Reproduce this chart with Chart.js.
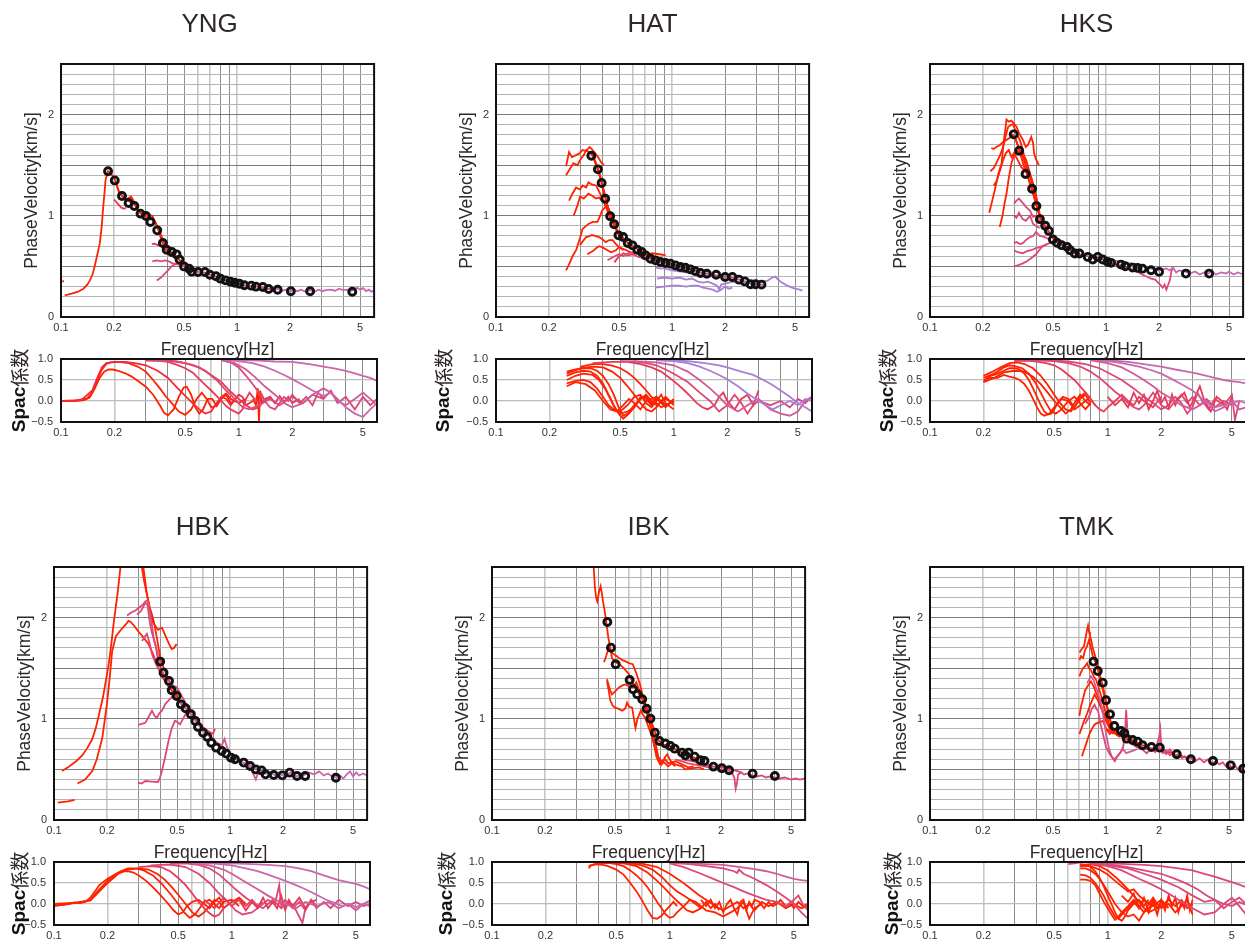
<!DOCTYPE html>
<html><head><meta charset="utf-8">
<script src="https://cdn.jsdelivr.net/npm/chart.js@4"></script>
<style>
html,body{margin:0;padding:0;background:#fff;width:1245px;height:943px;overflow:hidden;position:relative}
canvas{position:absolute}
</style></head><body>
<script>
// ---------- tick values / labels ----------
const FREQ_TICKS = [0.1,0.2,0.3,0.4,0.5,0.6,0.7,0.8,0.9,1,2,3,4,5];
const FREQ_LABELS = [0.1,0.2,0.5,1,2,5];
const VEL_TICKS = [0,0.1,0.2,0.3,0.4,0.5,0.6,0.7,0.8,0.9,1,1.1,1.2,1.3,1.4,1.5,1.6,1.7,1.8,1.9,2,2.1,2.2,2.3,2.4,2.5];
const VEL_LABELS = [0,1,2];
const SPAC_TICKS = [-0.5,0,0.5,1];
const SPAC_LABELS = ['\u22120.5','0.0','0.5','1.0'];
const TITLES = ['YNG','HAT','HKS','HBK','IBK','TMK'];

// ---------- YNG ----------
const YNG_DOTS = [[0.185,1.44],[0.202,1.35],[0.222,1.196],[0.242,1.126],[0.261,1.097],[0.283,1.021],[0.304,0.998],[0.322,0.939],[0.352,0.856],[0.379,0.731],[0.398,0.665],[0.426,0.642],[0.453,0.619],[0.471,0.567],[0.50,0.50],[0.534,0.478],[0.553,0.448],[0.60,0.445],[0.657,0.445],[0.701,0.418],[0.759,0.402],[0.805,0.379],[0.859,0.362],[0.917,0.349],[0.97,0.339],[1.03,0.329],[1.10,0.313],[1.205,0.31],[1.28,0.30],[1.40,0.296],[1.51,0.277],[1.70,0.27],[2.02,0.254],[2.60,0.254],[4.51,0.25]];
const YNG_V_STUB = [[0.1,0.35],[0.104,0.355]];
const YNG_V_RED = [[0.105,0.214],[0.115,0.23],[0.125,0.25],[0.134,0.28],[0.141,0.32],[0.146,0.362],[0.151,0.42],[0.155,0.494],[0.160,0.60],[0.166,0.725],[0.170,0.88],[0.173,1.054],[0.176,1.2],[0.179,1.35],[0.183,1.42],[0.185,1.44],[0.19,1.43],[0.202,1.36],[0.212,1.25],[0.222,1.20],[0.235,1.16],[0.25,1.19],[0.262,1.13],[0.275,1.05],[0.29,1.02],[0.31,1.01],[0.33,1.00],[0.345,0.93],[0.36,0.84],[0.375,0.74],[0.39,0.69],[0.42,0.64],[0.45,0.60],[0.48,0.55],[0.52,0.50]];
const YNG_V_RED2 = [[0.205,1.33],[0.215,1.22],[0.23,1.17],[0.245,1.14],[0.26,1.12],[0.275,1.04],[0.295,1.0],[0.32,0.98],[0.34,0.95],[0.36,0.86],[0.38,0.76],[0.40,0.68]];
const YNG_V_C1 = [[0.20,1.16],[0.21,1.12],[0.22,1.08],[0.228,1.07],[0.234,1.08]];
const YNG_V_C2 = [[0.328,0.72],[0.34,0.725],[0.355,0.71],[0.37,0.70],[0.39,0.665],[0.41,0.64],[0.43,0.62],[0.46,0.58],[0.50,0.52],[0.55,0.48],[0.60,0.45]];
const YNG_V_C3 = [[0.33,0.55],[0.35,0.56],[0.37,0.55],[0.39,0.56],[0.41,0.55],[0.43,0.53],[0.46,0.52],[0.50,0.50]];
const YNG_V_C4 = [[0.35,0.36],[0.37,0.39],[0.39,0.43],[0.41,0.47],[0.43,0.51],[0.46,0.53]];
const YNG_V_PINK = [[0.50,0.50],[0.55,0.46],[0.60,0.445],[0.65,0.44],[0.70,0.42],[0.76,0.40],[0.82,0.375],[0.88,0.36],[0.95,0.345],[1.0,0.335],[1.1,0.315],[1.2,0.305],[1.3,0.30],[1.4,0.29],[1.5,0.28],[1.6,0.275]];
const YNG_V_MAG = [[1.3,0.28],[1.38,0.29],[1.45,0.27],[1.55,0.285],[1.62,0.27],[1.7,0.28],[1.8,0.26],[1.9,0.27],[2.0,0.25],[2.1,0.27],[2.2,0.255],[2.3,0.27],[2.45,0.25],[2.6,0.265],[2.75,0.25],[2.9,0.27],[3.05,0.255],[3.2,0.265],[3.4,0.27],[3.6,0.26],[3.8,0.28],[4.0,0.265],[4.2,0.27],[4.4,0.255],[4.6,0.27],[4.8,0.29],[5.0,0.27],[5.2,0.285],[5.4,0.255],[5.6,0.27],[5.8,0.25],[6.0,0.26]];
const YNG_S_R1 = [[0.1,0.0],[0.12,0.0],[0.135,0.02],[0.145,0.08],[0.155,0.3],[0.165,0.55],[0.175,0.7],[0.185,0.75],[0.195,0.75],[0.21,0.72],[0.23,0.66],[0.25,0.58],[0.27,0.48],[0.3,0.34],[0.33,0.15],[0.36,-0.1],[0.38,-0.28],[0.40,-0.34],[0.43,-0.2],[0.46,0.1],[0.49,0.32],[0.51,0.34],[0.54,0.15],[0.57,-0.15],[0.6,-0.3],[0.63,-0.2],[0.67,0.05],[0.71,0.05],[0.75,-0.12],[0.8,0.05],[0.85,0.15],[0.9,-0.05],[0.95,0.0]];
const YNG_S_R2 = [[0.1,0.0],[0.12,0.01],[0.14,0.06],[0.15,0.2],[0.16,0.5],[0.17,0.75],[0.18,0.88],[0.19,0.92],[0.21,0.93],[0.24,0.9],[0.27,0.82],[0.3,0.7],[0.33,0.5],[0.36,0.3],[0.39,0.1],[0.42,-0.05],[0.46,-0.25],[0.5,-0.33],[0.54,-0.2],[0.58,0.05],[0.62,0.2],[0.66,0.05],[0.7,-0.15],[0.75,-0.12],[0.8,0.1],[0.85,0.18],[0.9,0.05],[1.0,-0.05],[1.1,0.05]];
const YNG_S_R3 = [[0.1,0.0],[0.13,0.02],[0.15,0.25],[0.16,0.55],[0.17,0.8],[0.18,0.9],[0.2,0.93],[0.23,0.93],[0.26,0.9],[0.3,0.85],[0.35,0.72],[0.4,0.55],[0.45,0.32],[0.5,0.12],[0.55,-0.05],[0.6,-0.2],[0.65,-0.3],[0.7,-0.25],[0.75,-0.05],[0.8,0.1],[0.85,0.05],[0.9,-0.1],[1.0,0.15],[1.05,0.1],[1.1,-0.1],[1.2,0.0]];
const YNG_S_SPIKE = [[1.2,0.05],[1.25,-0.1],[1.28,0.3],[1.3,-0.5],[1.32,0.25],[1.35,-0.05],[1.4,0.0]];
const YNG_S_C1 = [[0.3,0.97],[0.35,0.96],[0.4,0.93],[0.45,0.86],[0.5,0.78],[0.55,0.68],[0.6,0.52],[0.65,0.38],[0.7,0.25],[0.75,0.12],[0.8,0.0],[0.85,-0.12],[0.9,-0.2],[1.0,-0.3],[1.05,-0.2],[1.1,0.05],[1.15,0.2],[1.2,0.1],[1.3,-0.05],[1.35,0.15],[1.4,0.0],[1.5,0.1],[1.6,-0.05]];
const YNG_S_C2 = [[0.3,0.98],[0.4,0.97],[0.5,0.9],[0.6,0.8],[0.7,0.62],[0.8,0.45],[0.9,0.22],[1.0,0.05],[1.1,-0.1],[1.2,-0.2],[1.3,-0.15],[1.4,0.05],[1.5,0.1],[1.6,-0.05],[1.7,0.12],[1.8,-0.02],[1.9,0.1],[2.0,-0.05],[2.2,0.05]];
const YNG_S_C3 = [[0.3,0.97],[0.45,0.94],[0.55,0.86],[0.65,0.72],[0.75,0.5],[0.85,0.25],[0.95,0.05],[1.05,-0.15],[1.15,-0.2],[1.3,-0.1],[1.5,0.05],[1.7,-0.1],[2.0,0.1],[2.3,-0.05],[2.6,0.15],[3.0,0.05]];
const YNG_S_P1 = [[0.8,0.99],[1.0,0.98],[1.3,0.96],[1.6,0.94],[2.0,0.93],[2.5,0.88],[3.0,0.82],[3.5,0.77],[4.0,0.72],[4.5,0.66],[5.0,0.6],[5.5,0.55],[6.0,0.48]];
const YNG_S_P2 = [[0.8,0.98],[1.0,0.95],[1.2,0.9],[1.4,0.82],[1.6,0.72],[1.8,0.62],[2.0,0.52],[2.3,0.38],[2.6,0.25],[3.0,0.12],[3.3,0.2],[3.6,0.05],[4.0,-0.15],[4.5,-0.3],[5.0,-0.38],[5.5,-0.2],[6.0,-0.05]];
const YNG_S_P3 = [[0.8,0.97],[0.95,0.9],[1.1,0.75],[1.25,0.55],[1.4,0.35],[1.6,0.15],[1.8,-0.05],[2.0,-0.15],[2.3,-0.05],[2.6,0.15],[3.0,0.3],[3.3,0.2],[3.6,0.0],[4.0,-0.1],[4.5,0.05],[5.0,0.2],[5.5,0.05],[6.0,-0.1]];
const YNG_S_P4 = [[0.8,0.98],[0.9,0.92],[1.0,0.8],[1.1,0.6],[1.2,0.4],[1.3,0.2],[1.4,0.0],[1.5,-0.15],[1.6,-0.2],[1.7,-0.05],[1.8,0.1],[1.9,0.0],[2.0,0.15],[2.2,-0.05],[2.4,0.1],[2.6,-0.1],[2.8,0.2],[3.0,0.05],[3.3,0.25],[3.6,-0.05],[4.0,0.1],[4.5,-0.2],[5.0,0.1],[5.5,-0.1],[6.0,0.05]];

// ---------- HAT ----------
const HAT_DOTS = [[0.348,1.594],[0.379,1.459],[0.398,1.324],[0.417,1.169],[0.445,0.995],[0.469,0.916],[0.496,0.807],[0.527,0.79],[0.56,0.731],[0.595,0.708],[0.635,0.665],[0.672,0.642],[0.707,0.609],[0.755,0.576],[0.805,0.56],[0.859,0.543],[0.917,0.534],[0.979,0.527],[1.045,0.51],[1.114,0.494],[1.19,0.487],[1.27,0.471],[1.35,0.455],[1.45,0.435],[1.575,0.428],[1.78,0.418],[2.0,0.395],[2.2,0.395],[2.4,0.369],[2.59,0.352],[2.79,0.323],[2.98,0.323],[3.22,0.32]];
const HAT_V_R1 = [[0.25,1.49],[0.26,1.63],[0.27,1.58],[0.285,1.6],[0.3,1.62],[0.31,1.65],[0.325,1.64],[0.34,1.68],[0.35,1.66],[0.365,1.62],[0.38,1.58],[0.395,1.53],[0.41,1.50]];
const HAT_V_R2 = [[0.25,1.40],[0.262,1.46],[0.275,1.52],[0.29,1.5],[0.30,1.55],[0.315,1.6],[0.325,1.65],[0.34,1.62],[0.35,1.61],[0.37,1.5],[0.39,1.38],[0.41,1.22],[0.43,1.1],[0.45,0.98],[0.47,0.9],[0.5,0.8],[0.53,0.77]];
const HAT_V_R3 = [[0.26,1.15],[0.272,1.22],[0.285,1.28],[0.30,1.26],[0.31,1.30],[0.325,1.28],[0.335,1.33],[0.35,1.31],[0.37,1.30],[0.385,1.24],[0.40,1.18],[0.42,1.09],[0.44,1.0],[0.46,0.93]];
const HAT_V_R4 = [[0.276,1.0],[0.29,1.1],[0.30,1.19],[0.315,1.17],[0.335,1.22],[0.35,1.2],[0.37,1.17],[0.385,1.18],[0.40,1.15],[0.42,1.14],[0.44,1.05],[0.46,0.95]];
const HAT_V_R5 = [[0.25,0.46],[0.26,0.52],[0.272,0.6],[0.285,0.66],[0.30,0.78],[0.31,0.87],[0.325,0.9],[0.335,0.92],[0.355,0.94],[0.377,0.94],[0.39,1.0],[0.40,1.05],[0.42,1.09],[0.44,1.05],[0.46,0.98],[0.48,0.9]];
const HAT_V_R6 = [[0.30,0.71],[0.315,0.76],[0.325,0.79],[0.34,0.8],[0.35,0.81],[0.37,0.8],[0.385,0.79],[0.40,0.77],[0.42,0.74],[0.44,0.76],[0.46,0.76],[0.48,0.72],[0.50,0.69],[0.53,0.66]];
const HAT_V_R7 = [[0.33,0.62],[0.345,0.64],[0.36,0.66],[0.37,0.68],[0.385,0.70],[0.40,0.69],[0.42,0.67],[0.45,0.64],[0.48,0.66],[0.50,0.69],[0.55,0.66],[0.60,0.63],[0.65,0.64],[0.70,0.61],[0.77,0.63],[0.85,0.62],[0.92,0.61]];
const HAT_V_RMAIN = [[0.35,1.62],[0.37,1.52],[0.39,1.40],[0.41,1.25],[0.43,1.1],[0.45,1.0],[0.47,0.92],[0.50,0.82],[0.53,0.78],[0.56,0.73],[0.60,0.70],[0.65,0.66],[0.70,0.62],[0.75,0.59],[0.80,0.57],[0.9,0.55],[1.0,0.53]];
const HAT_V_C1 = [[0.43,0.56],[0.46,0.59],[0.5,0.62],[0.53,0.6],[0.56,0.63],[0.6,0.64],[0.65,0.62],[0.7,0.6],[0.75,0.58],[0.8,0.56],[0.9,0.55],[1.0,0.52],[1.1,0.51],[1.2,0.49],[1.3,0.47],[1.4,0.45],[1.5,0.43],[1.6,0.43],[1.8,0.41],[2.0,0.40],[2.2,0.39],[2.4,0.37],[2.6,0.35],[2.8,0.33],[3.0,0.32],[3.3,0.32]];
const HAT_V_C2 = [[0.47,0.54],[0.5,0.6],[0.53,0.63],[0.56,0.61],[0.6,0.62],[0.63,0.6],[0.66,0.59],[0.7,0.57]];
const HAT_V_PU1 = [[0.8,0.49],[0.85,0.48],[0.9,0.48],[0.95,0.47],[1.0,0.46],[1.1,0.45],[1.2,0.44],[1.3,0.43],[1.4,0.42],[1.5,0.42],[1.7,0.40],[1.9,0.39],[2.0,0.38]];
const HAT_V_PU2 = [[0.82,0.38],[0.9,0.39],[1.0,0.38],[1.1,0.39],[1.2,0.37],[1.3,0.38],[1.4,0.35],[1.5,0.34],[1.6,0.35],[1.7,0.33],[1.8,0.31],[1.85,0.27],[1.9,0.32],[2.0,0.33],[2.2,0.35],[2.4,0.34],[2.6,0.35],[2.8,0.33],[3.0,0.34],[3.2,0.35],[3.5,0.36],[3.7,0.39],[3.85,0.40],[4.0,0.37],[4.2,0.34],[4.5,0.31],[4.8,0.29],[5.0,0.28],[5.3,0.27],[5.5,0.26]];
const HAT_V_PU3 = [[0.8,0.29],[0.9,0.30],[1.0,0.31],[1.1,0.31],[1.2,0.30],[1.3,0.31],[1.4,0.31],[1.5,0.29],[1.6,0.28],[1.7,0.27],[1.8,0.25],[1.9,0.27],[2.0,0.30],[2.1,0.28],[2.2,0.29]];
const HAT_S_R1 = [[0.25,0.7],[0.28,0.75],[0.31,0.78],[0.34,0.78],[0.37,0.72],[0.40,0.6],[0.43,0.4],[0.46,0.15],[0.49,-0.15],[0.52,-0.35],[0.55,-0.3],[0.6,-0.1],[0.65,0.05],[0.7,0.1],[0.75,-0.05],[0.8,0.05],[0.9,-0.1],[1.0,0.0]];
const HAT_S_R2 = [[0.25,0.6],[0.28,0.68],[0.31,0.72],[0.34,0.7],[0.37,0.6],[0.40,0.42],[0.43,0.15],[0.46,-0.1],[0.49,-0.3],[0.52,-0.42],[0.56,-0.3],[0.6,-0.15],[0.65,0.05],[0.7,0.15],[0.75,0.0],[0.8,-0.1],[0.9,0.05],[1.0,-0.05]];
const HAT_S_R3 = [[0.25,0.5],[0.28,0.6],[0.31,0.65],[0.35,0.62],[0.38,0.5],[0.41,0.3],[0.44,0.05],[0.47,-0.2],[0.5,-0.3],[0.55,-0.25],[0.6,-0.15],[0.65,0.1],[0.7,0.05],[0.75,-0.1],[0.8,0.1],[0.85,-0.05],[0.9,-0.15],[1.0,0.05]];
const HAT_S_R4 = [[0.25,0.42],[0.28,0.48],[0.31,0.5],[0.34,0.45],[0.37,0.3],[0.40,0.1],[0.43,-0.1],[0.46,-0.2],[0.5,-0.25],[0.55,-0.1],[0.6,0.1],[0.65,0.15],[0.7,-0.05],[0.75,-0.15],[0.8,0.0],[0.85,0.15],[0.9,-0.05],[1.0,-0.2]];
const HAT_S_R5 = [[0.25,0.35],[0.28,0.45],[0.32,0.4],[0.36,0.25],[0.40,0.0],[0.44,-0.2],[0.48,-0.25],[0.52,-0.1],[0.56,0.05],[0.6,-0.05],[0.65,-0.2],[0.7,0.0],[0.8,0.1],[0.9,-0.1],[1.0,0.0]];
const HAT_S_R6 = [[0.25,0.65],[0.3,0.78],[0.35,0.82],[0.4,0.8],[0.45,0.7],[0.5,0.55],[0.55,0.35],[0.6,0.15],[0.65,-0.05],[0.7,-0.2],[0.75,-0.25],[0.8,-0.15],[0.85,0.0],[0.9,0.1],[1.0,-0.1]];
const HAT_S_R7 = [[0.3,0.82],[0.35,0.88],[0.4,0.88],[0.45,0.84],[0.5,0.78],[0.55,0.68],[0.6,0.55],[0.65,0.4],[0.7,0.25],[0.75,0.1],[0.8,-0.05],[0.85,-0.15],[0.9,-0.1],[1.0,0.0]];
const HAT_S_C1 = [[0.35,0.9],[0.45,0.93],[0.55,0.93],[0.65,0.88],[0.75,0.8],[0.85,0.7],[0.95,0.55],[1.05,0.4],[1.15,0.25],[1.25,0.1],[1.35,-0.05],[1.45,-0.15],[1.55,-0.2],[1.7,-0.1],[1.8,0.1],[1.9,0.2],[2.0,0.0],[2.2,-0.2],[2.4,0.05],[2.6,0.15],[2.8,-0.1],[3.0,0.25]];
const HAT_S_C2 = [[0.5,0.95],[0.6,0.94],[0.7,0.9],[0.8,0.85],[0.9,0.75],[1.0,0.65],[1.2,0.45],[1.4,0.2],[1.6,0.0],[1.8,-0.25],[2.0,-0.1],[2.2,0.15],[2.4,-0.05],[2.6,-0.3],[2.8,-0.1],[3.0,0.0],[3.5,-0.1],[4.0,0.0],[4.5,-0.15],[5.0,0.05],[5.5,-0.05],[6.0,0.1]];
const HAT_S_C3 = [[0.6,0.95],[0.8,0.92],[1.0,0.85],[1.2,0.7],[1.4,0.5],[1.6,0.3],[1.8,0.1],[2.0,-0.1],[2.3,-0.25],[2.6,-0.1],[3.0,0.05],[3.5,-0.2],[4.0,-0.3],[4.5,-0.35],[5.0,-0.25],[5.5,0.0],[6.0,0.1]];
const HAT_S_PU1 = [[0.8,0.98],[1.0,0.97],[1.2,0.95],[1.5,0.9],[1.8,0.85],[2.0,0.8],[2.4,0.7],[2.8,0.62],[3.2,0.5],[3.6,0.38],[4.0,0.25],[4.5,0.1],[5.0,-0.05],[5.5,-0.15],[6.0,-0.25]];
const HAT_S_PU2 = [[0.8,0.97],[1.0,0.95],[1.2,0.9],[1.4,0.82],[1.6,0.72],[1.8,0.62],[2.0,0.52],[2.3,0.35],[2.6,0.18],[3.0,0.0],[3.3,-0.1],[3.6,-0.2],[4.0,-0.1],[4.5,0.0],[5.0,-0.1],[5.5,0.05],[6.0,0.0]];

// ---------- HKS ----------
const HKS_DOTS = [[0.299,1.805],[0.321,1.644],[0.349,1.413],[0.38,1.267],[0.402,1.096],[0.421,0.967],[0.451,0.901],[0.473,0.851],[0.499,0.766],[0.526,0.733],[0.559,0.71],[0.599,0.693],[0.625,0.66],[0.665,0.627],[0.706,0.627],[0.787,0.594],[0.84,0.568],[0.897,0.594],[0.957,0.568],[1.02,0.545],[1.067,0.535],[1.216,0.518],[1.285,0.502],[1.415,0.488],[1.51,0.485],[1.61,0.478],[1.80,0.462],[2.0,0.446],[2.84,0.429],[3.85,0.429]];
const HKS_V_R1 = [[0.217,1.03],[0.225,1.14],[0.233,1.25],[0.245,1.42],[0.255,1.52],[0.263,1.75],[0.272,1.95],[0.28,1.93],[0.29,1.94],[0.30,1.91],[0.31,1.88],[0.32,1.82],[0.337,1.75],[0.35,1.68],[0.36,1.7],[0.376,1.78],[0.385,1.72],[0.39,1.62],[0.40,1.56],[0.415,1.50]];
const HKS_V_R2 = [[0.22,1.44],[0.23,1.47],[0.238,1.52],[0.25,1.6],[0.26,1.68],[0.27,1.8],[0.278,1.88],[0.29,1.9],[0.296,1.9],[0.31,1.82],[0.325,1.74],[0.337,1.65],[0.35,1.5],[0.368,1.32],[0.38,1.25],[0.394,1.155],[0.41,1.05],[0.43,0.95]];
const HKS_V_R3 = [[0.223,1.67],[0.23,1.66],[0.238,1.68],[0.25,1.7],[0.26,1.73],[0.272,1.75],[0.284,1.77],[0.295,1.8],[0.303,1.78],[0.315,1.7],[0.324,1.65],[0.34,1.6],[0.352,1.55],[0.365,1.45],[0.38,1.35],[0.39,1.25],[0.40,1.12],[0.42,1.0],[0.44,0.93]];
const HKS_V_R4 = [[0.249,0.89],[0.258,1.0],[0.265,1.12],[0.272,1.22],[0.28,1.37],[0.29,1.52],[0.30,1.6],[0.31,1.65],[0.325,1.62],[0.337,1.58],[0.35,1.5],[0.365,1.42],[0.38,1.32],[0.40,1.18],[0.42,1.02],[0.45,0.9],[0.48,0.82],[0.5,0.77]];
const HKS_V_R5 = [[0.23,1.3],[0.24,1.35],[0.25,1.45],[0.26,1.55],[0.27,1.62],[0.28,1.65],[0.29,1.58],[0.30,1.62],[0.315,1.55],[0.33,1.48],[0.345,1.45],[0.36,1.48],[0.375,1.38],[0.39,1.28],[0.41,1.12]];
const HKS_V_RMAIN = [[0.30,1.8],[0.32,1.66],[0.34,1.5],[0.36,1.38],[0.38,1.27],[0.40,1.12],[0.42,0.99],[0.45,0.9],[0.48,0.83],[0.5,0.78],[0.53,0.74],[0.56,0.72],[0.6,0.69],[0.65,0.65],[0.7,0.63]];
const HKS_V_C1 = [[0.30,1.12],[0.31,1.15],[0.32,1.17],[0.335,1.13],[0.35,1.09],[0.37,1.05],[0.385,0.99],[0.40,1.0],[0.42,0.95],[0.45,0.88],[0.48,0.82],[0.5,0.78]];
const HKS_V_C2 = [[0.30,1.0],[0.31,0.98],[0.32,1.03],[0.335,0.97],[0.35,0.95],[0.37,1.0],[0.385,0.92],[0.40,0.9],[0.42,0.88]];
const HKS_V_C3 = [[0.30,0.73],[0.31,0.74],[0.325,0.72],[0.337,0.73],[0.35,0.76],[0.37,0.79],[0.385,0.8],[0.40,0.84],[0.42,0.8],[0.45,0.79],[0.48,0.76]];
const HKS_V_C4 = [[0.30,0.66],[0.315,0.64],[0.337,0.63],[0.355,0.65],[0.375,0.66],[0.40,0.68],[0.42,0.69],[0.45,0.71],[0.477,0.73],[0.5,0.74]];
const HKS_V_C5 = [[0.30,0.50],[0.315,0.51],[0.337,0.53],[0.355,0.55],[0.375,0.58],[0.40,0.62],[0.43,0.69],[0.46,0.72]];
const HKS_V_PK = [[0.5,0.76],[0.55,0.72],[0.6,0.69],[0.65,0.64],[0.7,0.62],[0.75,0.61],[0.8,0.60],[0.85,0.59],[0.9,0.59],[0.95,0.57],[1.0,0.56],[1.05,0.54],[1.1,0.52],[1.2,0.51],[1.3,0.49],[1.4,0.47],[1.5,0.45],[1.6,0.42],[1.7,0.40],[1.8,0.38],[1.9,0.37],[2.0,0.33],[2.1,0.29],[2.15,0.32],[2.2,0.27],[2.3,0.36],[2.35,0.45],[2.4,0.5]];
const HKS_V_MAG = [[0.8,0.61],[0.9,0.6],[1.0,0.58],[1.1,0.56],[1.2,0.55],[1.3,0.53],[1.4,0.53],[1.5,0.51],[1.6,0.5],[1.7,0.49],[1.8,0.48],[1.9,0.47],[2.0,0.46],[2.1,0.47],[2.2,0.48],[2.3,0.46],[2.4,0.49],[2.5,0.44],[2.6,0.46],[2.8,0.45],[3.0,0.43],[3.2,0.45],[3.4,0.42],[3.6,0.44],[3.8,0.43],[4.0,0.45],[4.2,0.42],[4.5,0.44],[4.8,0.43],[5.0,0.45],[5.3,0.42],[5.6,0.44],[6.0,0.42]];
const HKS_S_R1 = [[0.2,0.45],[0.21,0.55],[0.22,0.6],[0.24,0.65],[0.26,0.72],[0.28,0.78],[0.3,0.78],[0.32,0.75],[0.34,0.65],[0.36,0.5],[0.38,0.3],[0.40,0.1],[0.42,-0.1],[0.44,-0.25],[0.46,-0.32],[0.48,-0.3],[0.5,-0.2],[0.53,0.0],[0.56,0.1],[0.6,0.05],[0.65,-0.15],[0.7,0.05],[0.75,0.15],[0.8,-0.05]];
const HKS_S_R2 = [[0.2,0.55],[0.22,0.62],[0.24,0.7],[0.26,0.8],[0.28,0.85],[0.3,0.83],[0.33,0.78],[0.36,0.65],[0.39,0.45],[0.42,0.2],[0.45,-0.05],[0.48,-0.25],[0.51,-0.3],[0.55,-0.2],[0.6,0.0],[0.65,0.1],[0.7,-0.05],[0.75,-0.2],[0.8,-0.05]];
const HKS_S_R3 = [[0.2,0.5],[0.22,0.55],[0.24,0.55],[0.26,0.62],[0.28,0.58],[0.3,0.55],[0.32,0.5],[0.34,0.4],[0.36,0.25],[0.38,0.05],[0.40,-0.15],[0.42,-0.3],[0.44,-0.35],[0.47,-0.3],[0.5,-0.15],[0.55,0.05],[0.6,0.0],[0.65,-0.2],[0.7,-0.1],[0.8,0.1]];
const HKS_S_R4 = [[0.2,0.6],[0.22,0.68],[0.25,0.8],[0.28,0.9],[0.31,0.92],[0.34,0.88],[0.38,0.78],[0.42,0.6],[0.46,0.38],[0.5,0.15],[0.54,-0.05],[0.58,-0.2],[0.62,-0.25],[0.66,-0.1],[0.7,0.1],[0.75,0.2],[0.8,0.05],[0.85,-0.1]];
const HKS_S_R5 = [[0.2,0.45],[0.23,0.55],[0.26,0.68],[0.3,0.72],[0.34,0.7],[0.38,0.58],[0.42,0.4],[0.46,0.2],[0.5,0.0],[0.54,-0.15],[0.58,-0.3],[0.62,-0.2],[0.66,0.0],[0.7,0.15],[0.75,0.0],[0.8,-0.1]];
const HKS_S_C1 = [[0.3,0.95],[0.35,0.96],[0.4,0.94],[0.45,0.9],[0.5,0.85],[0.55,0.75],[0.6,0.62],[0.65,0.5],[0.7,0.35],[0.75,0.2],[0.8,0.05],[0.85,-0.1],[0.9,-0.2],[0.95,-0.25],[1.0,-0.15],[1.1,0.0],[1.2,0.15],[1.3,0.0],[1.4,-0.1],[1.5,0.1],[1.6,0.0],[1.8,-0.15],[2.0,0.1]];
const HKS_S_C2 = [[0.3,0.97],[0.4,0.97],[0.5,0.95],[0.6,0.9],[0.7,0.82],[0.8,0.7],[0.9,0.55],[1.0,0.38],[1.1,0.22],[1.2,0.1],[1.3,-0.05],[1.4,-0.15],[1.5,-0.2],[1.6,-0.1],[1.7,0.05],[1.8,0.2],[1.9,0.05],[2.0,-0.1],[2.2,-0.2],[2.4,0.0],[2.6,0.15],[2.8,-0.05],[3.0,0.1],[3.3,-0.1],[3.6,0.05],[4.0,-0.15],[4.5,0.0],[5.0,-0.1]];
const HKS_S_C3 = [[0.3,0.98],[0.45,0.97],[0.6,0.94],[0.75,0.88],[0.9,0.78],[1.0,0.68],[1.2,0.5],[1.4,0.3],[1.6,0.1],[1.8,-0.05],[2.0,-0.2],[2.2,-0.1],[2.4,0.1],[2.6,-0.05],[2.8,-0.3],[3.0,-0.15],[3.2,0.2],[3.4,0.0],[3.7,-0.2],[4.0,0.05],[4.5,-0.1],[5.0,0.15],[5.2,-0.45],[5.5,0.0]];
const HKS_S_C4 = [[1.0,0.1],[1.1,-0.1],[1.2,0.05],[1.3,-0.15],[1.4,0.2],[1.5,-0.05],[1.6,0.15],[1.7,-0.2],[1.8,0.0],[1.9,0.25],[2.0,-0.05],[2.1,0.1],[2.2,-0.15],[2.3,0.15],[2.4,-0.1],[2.5,0.05],[2.7,0.2],[2.9,-0.15],[3.1,0.1],[3.3,0.35],[3.5,0.0],[3.8,-0.25],[4.1,0.1],[4.4,0.0],[4.7,-0.2],[5.0,0.1]];
const HKS_S_P1 = [[0.8,0.99],[1.0,0.97],[1.3,0.93],[1.6,0.88],[2.0,0.82],[2.4,0.75],[2.8,0.7],[3.2,0.65],[3.6,0.6],[4.0,0.55],[4.5,0.5],[5.0,0.47],[5.5,0.45],[6.0,0.42]];
const HKS_S_P2 = [[0.8,0.98],[1.0,0.95],[1.2,0.9],[1.5,0.82],[1.8,0.72],[2.0,0.65],[2.3,0.52],[2.6,0.4],[3.0,0.25],[3.3,0.1],[3.6,-0.05],[4.0,-0.15],[4.5,-0.1],[5.0,-0.05],[5.5,0.0],[6.0,-0.05]];
const HKS_S_P3 = [[0.8,0.97],[1.0,0.9],[1.2,0.8],[1.4,0.65],[1.6,0.5],[1.8,0.35],[2.0,0.2],[2.3,0.05],[2.6,-0.1],[3.0,-0.2],[3.3,-0.1],[3.6,0.0],[4.0,-0.25],[4.5,-0.15],[5.0,0.0],[5.5,-0.2],[6.0,-0.15]];

// ---------- HBK ----------
const HBK_DOTS = [[0.401,1.565],[0.419,1.456],[0.45,1.374],[0.466,1.282],[0.497,1.226],[0.526,1.143],[0.559,1.104],[0.599,1.045],[0.635,0.979],[0.658,0.919],[0.702,0.863],[0.743,0.82],[0.782,0.764],[0.834,0.715],[0.897,0.682],[0.949,0.656],[1.013,0.616],[1.066,0.60],[1.194,0.567],[1.30,0.534],[1.40,0.50],[1.51,0.49],[1.59,0.451],[1.77,0.445],[1.98,0.441],[2.18,0.468],[2.40,0.435],[2.67,0.435],[3.99,0.418]];
const HBK_V_R1 = [[0.111,0.484],[0.12,0.52],[0.134,0.583],[0.145,0.64],[0.155,0.715],[0.165,0.8],[0.173,0.913],[0.18,1.04],[0.19,1.22],[0.197,1.374],[0.205,1.55],[0.212,1.75],[0.219,1.967],[0.23,2.25],[0.242,2.6]];
const HBK_V_R1B = [[0.305,2.6],[0.316,2.49],[0.325,2.36],[0.337,2.23],[0.35,2.1],[0.36,2.03],[0.37,1.95],[0.384,1.8],[0.40,1.62],[0.42,1.5],[0.45,1.38],[0.48,1.28],[0.5,1.22],[0.53,1.15]];
const HBK_V_R2 = [[0.136,0.36],[0.15,0.4],[0.165,0.484],[0.175,0.6],[0.188,0.81],[0.2,1.15],[0.207,1.4],[0.214,1.67],[0.225,1.82],[0.24,1.88],[0.255,1.93],[0.265,1.967],[0.272,1.96],[0.285,1.92],[0.30,1.868],[0.32,1.81],[0.345,1.736],[0.365,1.64],[0.384,1.54],[0.41,1.42],[0.447,1.32],[0.48,1.25],[0.5,1.2]];
const HBK_V_R3 = [[0.105,0.171],[0.12,0.185],[0.131,0.198]];
const HBK_V_R4 = [[0.316,2.6],[0.337,2.23],[0.35,2.08],[0.365,1.95],[0.376,1.92],[0.39,1.88],[0.41,1.90],[0.425,1.84],[0.437,1.79],[0.45,1.74],[0.466,1.69],[0.48,1.70],[0.497,1.74]];
const HBK_V_C1 = [[0.26,2.02],[0.275,2.05],[0.29,2.07],[0.305,2.1],[0.32,2.13],[0.33,2.16],[0.34,2.17],[0.345,2.13],[0.355,2.0],[0.368,1.80],[0.38,1.7],[0.39,1.57],[0.41,1.48],[0.43,1.40]];
const HBK_V_C2 = [[0.296,2.03],[0.31,2.06],[0.32,2.1],[0.33,2.15],[0.34,2.12],[0.35,1.95],[0.36,1.85],[0.376,1.74],[0.39,1.62],[0.41,1.52]];
const HBK_V_C3 = [[0.316,1.77],[0.325,1.80],[0.337,1.84],[0.35,1.74],[0.36,1.64],[0.375,1.56],[0.39,1.5],[0.41,1.45],[0.43,1.39],[0.45,1.37],[0.466,1.34],[0.485,1.32],[0.5,1.31],[0.525,1.24],[0.55,1.18],[0.58,1.1],[0.6,1.05]];
const HBK_V_C4 = [[0.30,0.94],[0.315,0.95],[0.33,0.96],[0.345,1.02],[0.36,1.08],[0.372,1.03],[0.384,1.01],[0.395,1.05],[0.41,1.08],[0.43,1.15],[0.447,1.18],[0.476,1.23],[0.5,1.2],[0.53,1.14],[0.56,1.1]];
const HBK_V_C5 = [[0.30,0.37],[0.315,0.36],[0.33,0.385],[0.36,0.38],[0.39,0.376],[0.40,0.42],[0.41,0.484],[0.425,0.6],[0.447,0.78],[0.465,0.9],[0.486,0.98],[0.5,0.97],[0.52,0.945],[0.54,1.0],[0.56,1.05],[0.58,1.08]];
const HBK_V_C6 = [[0.55,1.15],[0.6,1.08],[0.65,0.98],[0.7,0.92],[0.75,0.88],[0.8,0.85],[0.82,0.9]];
const HBK_V_PK = [[0.5,1.2],[0.55,1.12],[0.6,1.04],[0.65,0.96],[0.7,0.88],[0.75,0.84],[0.8,0.8],[0.85,0.76],[0.9,0.74],[0.93,0.80],[0.96,0.72],[1.0,0.66],[1.1,0.6],[1.2,0.56],[1.3,0.52],[1.35,0.46],[1.4,0.40],[1.45,0.48],[1.5,0.50]];
const HBK_V_MAG = [[1.0,0.62],[1.1,0.6],[1.2,0.56],[1.3,0.54],[1.4,0.51],[1.5,0.49],[1.6,0.46],[1.7,0.47],[1.8,0.44],[1.9,0.46],[2.0,0.44],[2.1,0.45],[2.2,0.47],[2.3,0.44],[2.4,0.43],[2.5,0.45],[2.6,0.44],[2.8,0.47],[3.0,0.45],[3.2,0.48],[3.4,0.44],[3.6,0.46],[3.8,0.43],[4.0,0.42],[4.2,0.44],[4.4,0.41],[4.6,0.45],[4.8,0.48],[5.0,0.43],[5.2,0.47],[5.4,0.44],[5.7,0.46],[6.0,0.44]];
const HBK_S_R1 = [[0.1,-0.03],[0.11,-0.02],[0.12,0.0],[0.13,0.04],[0.14,0.02],[0.15,0.05],[0.16,0.15],[0.17,0.3],[0.18,0.45],[0.2,0.6],[0.22,0.7],[0.24,0.78],[0.26,0.78],[0.28,0.75],[0.3,0.68],[0.33,0.55],[0.36,0.4],[0.4,0.2],[0.44,0.0],[0.47,-0.15],[0.5,-0.25],[0.53,-0.2],[0.56,-0.05],[0.6,0.05],[0.65,0.1],[0.7,0.0],[0.75,-0.1],[0.8,0.05],[0.85,0.15],[0.9,0.0]];
const HBK_S_R2 = [[0.1,0.0],[0.12,0.02],[0.14,0.03],[0.16,0.1],[0.18,0.35],[0.2,0.55],[0.23,0.75],[0.26,0.85],[0.29,0.85],[0.32,0.8],[0.36,0.68],[0.4,0.5],[0.45,0.25],[0.5,0.0],[0.54,-0.2],[0.58,-0.33],[0.62,-0.25],[0.66,-0.1],[0.7,0.05],[0.75,0.1],[0.8,0.0],[0.85,-0.1],[0.9,0.05],[1.0,0.1],[1.1,-0.05]];
const HBK_S_R3 = [[0.1,-0.05],[0.12,0.0],[0.14,0.05],[0.16,0.08],[0.18,0.3],[0.2,0.5],[0.23,0.72],[0.26,0.82],[0.3,0.85],[0.34,0.82],[0.38,0.72],[0.42,0.58],[0.46,0.4],[0.5,0.22],[0.55,0.0],[0.6,-0.2],[0.65,-0.3],[0.7,-0.2],[0.75,-0.05],[0.8,0.1],[0.85,0.05],[0.9,-0.1],[1.0,0.05],[1.1,0.15],[1.2,0.0]];
const HBK_S_C1 = [[0.3,0.88],[0.35,0.9],[0.4,0.88],[0.45,0.78],[0.5,0.62],[0.55,0.45],[0.6,0.25],[0.65,0.05],[0.7,-0.1],[0.75,-0.22],[0.8,-0.3],[0.85,-0.25],[0.9,-0.1],[1.0,0.05],[1.1,0.1],[1.2,-0.05],[1.3,0.1],[1.4,-0.05],[1.5,0.05]];
const HBK_S_C2 = [[0.35,0.92],[0.45,0.94],[0.55,0.88],[0.65,0.72],[0.75,0.5],[0.85,0.25],[0.95,0.05],[1.05,-0.15],[1.15,-0.25],[1.3,-0.2],[1.45,-0.05],[1.6,0.1],[1.75,0.0],[1.85,0.45],[1.9,-0.05],[2.0,0.1],[2.2,-0.1],[2.4,0.05],[2.6,-0.15],[2.8,0.1],[3.0,-0.05]];
const HBK_S_C3 = [[0.45,0.96],[0.55,0.97],[0.65,0.93],[0.75,0.85],[0.85,0.7],[0.95,0.52],[1.05,0.35],[1.2,0.15],[1.35,0.0],[1.5,-0.1],[1.7,0.1],[1.9,-0.1],[2.1,0.05],[2.3,-0.15],[2.5,-0.45],[2.6,-0.1],[2.8,0.1],[3.0,-0.1],[3.3,0.05],[3.6,-0.1],[4.0,0.1],[4.5,-0.05],[5.0,0.05],[5.5,-0.05],[6.0,0.0]];
const HBK_S_P1 = [[0.6,0.99],[0.8,0.98],[1.0,0.97],[1.3,0.95],[1.6,0.93],[2.0,0.9],[2.4,0.85],[2.8,0.78],[3.2,0.7],[3.6,0.63],[4.0,0.57],[4.5,0.52],[5.0,0.48],[5.5,0.42],[6.0,0.35]];
const HBK_S_P2 = [[0.6,0.98],[0.8,0.96],[1.0,0.92],[1.2,0.85],[1.4,0.78],[1.6,0.7],[1.8,0.62],[2.0,0.55],[2.3,0.45],[2.6,0.35],[3.0,0.22],[3.4,0.1],[3.8,0.02],[4.2,-0.05],[4.6,0.0],[5.0,-0.08],[5.5,0.0],[6.0,-0.05]];
const HBK_S_P3 = [[0.6,0.97],[0.75,0.92],[0.9,0.82],[1.0,0.72],[1.2,0.52],[1.4,0.35],[1.6,0.2],[1.8,0.08],[2.0,0.0],[2.3,-0.1],[2.6,0.05],[3.0,-0.05],[3.5,0.05],[4.0,-0.1],[4.5,0.0],[5.0,-0.15],[5.5,0.0],[6.0,0.08]];
const HBK_S_P4 = [[0.7,0.1],[0.8,-0.1],[0.9,0.15],[1.0,-0.05],[1.1,0.1],[1.2,-0.15],[1.3,0.05],[1.4,-0.1],[1.5,0.15],[1.6,-0.1],[1.7,0.05],[1.8,-0.1],[1.9,0.2],[2.0,-0.15],[2.1,0.1],[2.2,-0.05],[2.4,0.15],[2.6,-0.1],[2.8,0.05],[3.0,0.1]];

// ---------- IBK ----------
const IBK_DOTS = [[0.452,1.957],[0.474,1.703],[0.504,1.539],[0.605,1.384],[0.632,1.292],[0.668,1.242],[0.713,1.193],[0.755,1.10],[0.794,1.002],[0.841,0.863],[0.893,0.781],[0.966,0.755],[1.03,0.731],[1.09,0.705],[1.20,0.666],[1.253,0.639],[1.309,0.666],[1.415,0.626],[1.524,0.59],[1.61,0.583],[1.81,0.527],[2.02,0.511],[2.22,0.491],[3.02,0.458],[4.04,0.435]];
const IBK_V_R1 = [[0.375,2.7],[0.378,2.5],[0.384,2.30],[0.39,2.2],[0.396,2.16],[0.405,2.25],[0.414,2.31],[0.42,2.25],[0.427,2.16],[0.435,2.08],[0.442,2.0],[0.45,1.9],[0.458,1.80],[0.47,1.7],[0.48,1.6],[0.5,1.56],[0.53,1.54],[0.56,1.5],[0.6,1.44],[0.63,1.36],[0.67,1.27],[0.71,1.2],[0.75,1.12],[0.79,1.02],[0.83,0.9],[0.87,0.8],[0.92,0.75],[0.97,0.74],[1.05,0.72],[1.15,0.68],[1.25,0.65],[1.4,0.62],[1.5,0.59]];
const IBK_V_R2 = [[0.433,1.56],[0.445,1.62],[0.46,1.70],[0.475,1.66],[0.49,1.64],[0.51,1.62],[0.527,1.60],[0.55,1.58],[0.57,1.57],[0.6,1.55],[0.63,1.54],[0.66,1.45],[0.69,1.35],[0.72,1.22],[0.76,1.1],[0.8,0.95],[0.84,0.8],[0.88,0.62],[0.92,0.58],[0.96,0.6],[1.0,0.56],[1.1,0.58],[1.2,0.55],[1.3,0.52],[1.4,0.53]];
const IBK_V_R3 = [[0.45,1.39],[0.465,1.3],[0.48,1.24],[0.5,1.27],[0.527,1.31],[0.55,1.33],[0.574,1.34],[0.6,1.32],[0.636,1.31],[0.66,1.36],[0.68,1.30],[0.7,1.25],[0.73,1.15],[0.76,1.05],[0.8,0.9],[0.83,0.75],[0.86,0.62],[0.9,0.55],[0.95,0.57],[1.0,0.53],[1.05,0.56],[1.1,0.53]];
const IBK_V_R4 = [[0.45,1.37],[0.46,1.28],[0.47,1.18],[0.485,1.13],[0.5,1.11],[0.52,1.10],[0.55,1.08],[0.57,1.1],[0.585,1.16],[0.6,1.12],[0.625,1.11],[0.64,1.0],[0.653,0.91],[0.67,1.0],[0.7,1.08],[0.72,1.04],[0.74,1.01],[0.77,0.93],[0.8,0.85],[0.845,0.71],[0.88,0.62],[0.92,0.55],[0.96,0.62],[0.99,0.65],[1.02,0.6],[1.05,0.57],[1.1,0.55],[1.2,0.53],[1.25,0.50],[1.35,0.51],[1.5,0.52],[1.6,0.50]];
const IBK_V_PK = [[1.1,0.6],[1.2,0.58],[1.3,0.56],[1.4,0.55],[1.5,0.54],[1.6,0.53],[1.7,0.52],[1.8,0.51],[1.9,0.5],[2.0,0.5],[2.1,0.49],[2.2,0.49],[2.3,0.47],[2.38,0.42],[2.42,0.31],[2.46,0.36],[2.5,0.45],[2.6,0.47],[2.7,0.45],[2.85,0.46],[3.0,0.44],[3.2,0.43],[3.4,0.44],[3.6,0.42],[3.8,0.43],[4.0,0.42],[4.3,0.41],[4.6,0.42],[5.0,0.40],[5.3,0.41],[5.6,0.40],[6.0,0.41]];
const IBK_V_PK2 = [[1.2,0.6],[1.4,0.58],[1.6,0.55],[1.8,0.53],[2.0,0.52],[2.2,0.51],[2.4,0.49],[2.6,0.47]];
const IBK_S_R1 = [[0.35,0.85],[0.36,0.92],[0.38,0.95],[0.42,0.93],[0.45,0.9],[0.5,0.82],[0.55,0.7],[0.6,0.5],[0.65,0.3],[0.7,0.08],[0.75,-0.15],[0.8,-0.33],[0.85,-0.35],[0.9,-0.28],[0.95,-0.15],[1.0,-0.05],[1.05,0.05],[1.1,-0.05]];
const IBK_S_R2 = [[0.35,0.9],[0.4,0.97],[0.45,0.98],[0.5,0.95],[0.55,0.9],[0.6,0.8],[0.65,0.68],[0.7,0.55],[0.75,0.4],[0.8,0.22],[0.85,0.05],[0.9,-0.1],[0.95,-0.25],[1.0,-0.33],[1.05,-0.3],[1.1,-0.2],[1.2,-0.05],[1.3,0.1],[1.4,0.0],[1.5,-0.1]];
const IBK_S_R3 = [[0.38,0.97],[0.45,0.99],[0.55,0.97],[0.65,0.9],[0.75,0.75],[0.85,0.55],[0.95,0.35],[1.05,0.15],[1.15,0.0],[1.25,-0.15],[1.35,-0.2],[1.5,-0.1],[1.6,0.05],[1.7,-0.1],[1.8,0.0],[1.9,-0.15]];
const IBK_S_R4 = [[0.45,0.99],[0.6,0.97],[0.7,0.92],[0.8,0.82],[0.9,0.65],[1.0,0.45],[1.1,0.3],[1.2,0.2],[1.3,0.1],[1.4,0.05],[1.5,-0.05],[1.6,-0.15],[1.8,-0.2],[2.0,-0.3],[2.2,-0.2],[2.4,-0.1],[2.6,0.05],[2.8,-0.35],[3.0,-0.1],[3.3,0.0]];
const IBK_S_R5 = [[0.55,0.99],[0.7,0.96],[0.85,0.88],[1.0,0.72],[1.15,0.55],[1.3,0.38],[1.45,0.22],[1.6,0.1],[1.8,-0.05],[2.0,-0.15],[2.2,-0.05],[2.4,0.05],[2.6,-0.1],[2.8,0.0],[3.0,-0.15],[3.3,0.05],[3.6,-0.05],[4.0,0.05],[4.5,-0.1],[5.0,0.0],[5.5,-0.1],[6.0,-0.05]];
const IBK_S_R6 = [[1.5,0.1],[1.6,-0.05],[1.7,0.1],[1.8,-0.1],[1.9,0.05],[2.0,-0.2],[2.1,0.0],[2.2,0.1],[2.3,-0.1],[2.4,-0.25],[2.5,0.05],[2.6,0.1],[2.7,-0.15],[2.8,0.05],[2.9,-0.05],[3.0,0.1],[3.2,0.05],[3.4,-0.1],[3.6,0.05],[3.8,-0.05],[4.0,0.0],[4.2,0.1],[4.5,-0.05],[4.8,0.0],[5.0,-0.1],[5.3,0.05],[5.6,-0.05],[6.0,0.0]];
const IBK_S_P1 = [[1.0,0.99],[1.3,0.97],[1.6,0.95],[2.0,0.93],[2.5,0.88],[3.0,0.83],[3.5,0.78],[4.0,0.72],[4.5,0.65],[5.0,0.6],[5.5,0.57],[6.0,0.55]];
const IBK_S_P2 = [[1.0,0.98],[1.3,0.95],[1.6,0.9],[2.0,0.85],[2.3,0.78],[2.4,0.74],[2.45,0.82],[2.6,0.72],[3.0,0.6],[3.5,0.45],[4.0,0.3],[4.5,0.15],[5.0,0.0],[5.5,-0.2],[6.0,-0.35]];
const IBK_S_P3 = [[1.0,0.97],[1.2,0.88],[1.5,0.72],[1.8,0.58],[2.0,0.5],[2.3,0.4],[2.6,0.3],[3.0,0.2],[3.5,0.1],[4.0,0.05],[4.5,-0.05],[5.0,0.1],[5.3,0.2],[5.6,0.0],[6.0,-0.15]];

// ---------- TMK ----------
const TMK_DOTS = [[0.848,1.565],[0.897,1.473],[0.957,1.357],[1.0,1.183],[1.053,1.044],[1.114,0.929],[1.216,0.88],[1.27,0.857],[1.31,0.804],[1.415,0.791],[1.51,0.774],[1.61,0.738],[1.81,0.722],[2.02,0.715],[2.52,0.649],[3.03,0.60],[4.05,0.583],[5.10,0.54],[6.0,0.507]];
const TMK_V_R1 = [[0.706,1.655],[0.72,1.68],[0.735,1.70],[0.75,1.72],[0.765,1.8],[0.78,1.88],[0.79,1.92],[0.8,1.86],[0.81,1.82],[0.82,1.79],[0.84,1.7],[0.86,1.64],[0.89,1.55],[0.92,1.44],[0.95,1.35],[0.98,1.25],[1.01,1.14],[1.04,1.04],[1.07,0.95],[1.1,0.9],[1.15,0.88],[1.2,0.86]];
const TMK_V_R2 = [[0.706,1.58],[0.72,1.62],[0.74,1.6],[0.76,1.68],[0.78,1.72],[0.8,1.78],[0.82,1.7],[0.84,1.62],[0.87,1.56],[0.9,1.48],[0.93,1.38],[0.96,1.28],[1.0,1.15],[1.04,1.02],[1.08,0.92]];
const TMK_V_R3 = [[0.706,1.42],[0.72,1.46],[0.74,1.5],[0.76,1.52],[0.78,1.55],[0.8,1.5],[0.82,1.48],[0.85,1.42],[0.88,1.38],[0.91,1.3],[0.94,1.22],[0.98,1.1],[1.02,1.0],[1.06,0.9],[1.1,0.85]];
const TMK_V_R4 = [[0.706,1.03],[0.72,1.12],[0.74,1.2],[0.76,1.28],[0.79,1.33],[0.82,1.37],[0.85,1.32],[0.88,1.25],[0.91,1.2],[0.95,1.1],[1.0,1.0],[1.05,0.9]];
const TMK_V_R5 = [[0.706,0.85],[0.73,0.92],[0.75,0.98],[0.78,1.05],[0.81,1.13],[0.86,1.24],[0.9,1.18],[0.95,1.08],[1.0,0.98],[1.05,0.9],[1.1,0.88],[1.2,0.85],[1.3,0.82],[1.4,0.79],[1.5,0.76],[1.6,0.75]];
const TMK_V_R6 = [[0.73,0.63],[0.745,0.68],[0.76,0.72],[0.78,0.78],[0.8,0.84],[0.82,0.88],[0.85,0.93],[0.87,0.95],[0.9,0.96],[0.96,0.98],[1.0,0.9],[1.05,0.85],[1.1,0.88],[1.15,0.84],[1.2,0.82]];
const TMK_V_R7 = [[1.0,0.9],[1.1,0.86],[1.2,0.83],[1.3,0.8],[1.4,0.78],[1.5,0.76],[1.6,0.74],[1.7,0.73],[1.8,0.70],[1.9,0.72],[2.0,0.68],[2.1,0.70],[2.2,0.66],[2.3,0.67],[2.5,0.64],[2.7,0.63],[2.9,0.61],[3.0,0.62]];
const TMK_V_C1 = [[0.76,0.95],[0.8,1.02],[0.83,1.1],[0.86,1.14],[0.88,1.1],[0.9,1.08],[0.93,0.95],[0.96,0.85],[1.0,0.72],[1.05,0.65],[1.1,0.6],[1.12,0.58],[1.15,0.62],[1.2,0.66],[1.25,0.72],[1.28,0.85],[1.3,1.09],[1.32,0.9],[1.35,0.78],[1.4,0.75],[1.5,0.72],[1.6,0.7],[1.7,0.66],[1.8,0.7],[1.9,0.68],[2.0,0.82],[2.03,0.9],[2.06,0.72],[2.1,0.68],[2.2,0.65],[2.3,0.7],[2.4,0.66],[2.6,0.62]];
const TMK_V_C2 = [[0.78,1.35],[0.82,1.42],[0.85,1.38],[0.88,1.3],[0.92,1.2],[0.96,1.05],[1.0,0.85],[1.04,0.7],[1.08,0.62],[1.12,0.6],[1.18,0.65],[1.25,0.7],[1.3,0.66],[1.4,0.68],[1.5,0.7]];
const TMK_V_MAG = [[1.5,0.74],[1.6,0.72],[1.7,0.70],[1.8,0.71],[1.9,0.67],[2.0,0.72],[2.1,0.66],[2.2,0.69],[2.3,0.64],[2.4,0.66],[2.5,0.63],[2.6,0.66],[2.7,0.61],[2.8,0.63],[2.9,0.6],[3.0,0.62],[3.2,0.58],[3.4,0.61],[3.6,0.57],[3.8,0.6],[4.0,0.56],[4.2,0.58],[4.4,0.55],[4.6,0.57],[4.8,0.53],[5.0,0.55],[5.2,0.51],[5.4,0.54],[5.6,0.5],[5.8,0.52],[6.0,0.49]];
const TMK_S_R1 = [[0.7,0.95],[0.75,0.93],[0.8,0.88],[0.85,0.78],[0.9,0.62],[0.95,0.42],[1.0,0.2],[1.05,0.0],[1.1,-0.2],[1.15,-0.35],[1.2,-0.4],[1.25,-0.3],[1.3,-0.15],[1.4,0.0],[1.5,0.1],[1.6,-0.05],[1.7,0.1]];
const TMK_S_R2 = [[0.7,0.85],[0.75,0.85],[0.8,0.8],[0.85,0.72],[0.9,0.6],[0.95,0.45],[1.0,0.3],[1.05,0.15],[1.1,0.0],[1.15,-0.1],[1.2,-0.2],[1.3,-0.3],[1.4,-0.25],[1.5,-0.4],[1.6,-0.2],[1.7,0.0],[1.8,0.1],[1.9,-0.1],[2.0,0.05]];
const TMK_S_R3 = [[0.7,0.7],[0.75,0.68],[0.8,0.62],[0.85,0.5],[0.9,0.35],[0.95,0.2],[1.0,0.0],[1.05,-0.15],[1.1,-0.3],[1.15,-0.35],[1.2,-0.25],[1.3,-0.1],[1.4,0.05],[1.5,-0.1],[1.6,0.1],[1.8,-0.05],[2.0,0.1],[2.2,-0.1]];
const TMK_S_R4 = [[0.7,0.58],[0.75,0.58],[0.8,0.55],[0.85,0.45],[0.9,0.25],[0.95,0.05],[1.0,-0.1],[1.05,-0.25],[1.1,-0.38],[1.15,-0.3],[1.2,-0.2],[1.3,-0.05],[1.4,0.1],[1.5,-0.05],[1.6,-0.2],[1.7,-0.1],[1.8,0.05]];
const TMK_S_R5 = [[0.7,0.92],[0.8,0.95],[0.9,0.9],[1.0,0.8],[1.1,0.65],[1.2,0.5],[1.3,0.35],[1.4,0.2],[1.5,0.05],[1.6,-0.1],[1.7,-0.2],[1.8,-0.15],[2.0,-0.05],[2.2,0.1],[2.4,-0.05],[2.6,0.1],[2.8,-0.1],[3.0,0.0]];
const TMK_S_R6 = [[0.7,0.9],[0.8,0.9],[0.9,0.82],[1.0,0.7],[1.1,0.55],[1.2,0.42],[1.3,0.3],[1.4,0.35],[1.5,0.2],[1.6,0.1],[1.7,0.0],[1.8,0.15],[1.9,0.0],[2.0,-0.1],[2.2,0.0],[2.4,-0.2],[2.6,-0.05],[2.8,0.1],[3.0,-0.25]];
const TMK_S_R7 = [[1.2,0.2],[1.3,0.05],[1.4,0.25],[1.5,-0.1],[1.6,0.15],[1.7,-0.2],[1.8,0.05],[1.9,-0.25],[2.0,0.1],[2.1,-0.15],[2.2,0.2],[2.3,-0.05],[2.4,0.15],[2.5,-0.2],[2.6,0.05],[2.7,-0.1],[2.8,0.2],[2.9,-0.15],[3.0,0.1]];
const TMK_S_P0 = [[0.6,0.95],[0.65,0.97],[0.7,0.99],[0.8,1.0],[0.9,0.99],[1.0,0.97]];
const TMK_S_P1 = [[0.8,0.99],[1.0,0.97],[1.3,0.95],[1.6,0.93],[2.0,0.9],[2.5,0.85],[3.0,0.8],[3.5,0.72],[4.0,0.65],[4.5,0.58],[5.0,0.52],[5.5,0.46],[6.0,0.4]];
const TMK_S_P2 = [[0.8,0.98],[1.0,0.95],[1.3,0.88],[1.6,0.8],[2.0,0.72],[2.4,0.6],[2.8,0.48],[3.2,0.35],[3.6,0.2],[4.0,0.1],[4.5,0.0],[5.0,-0.05],[5.5,0.05],[6.0,-0.02]];
const TMK_S_P3 = [[0.8,0.97],[1.0,0.9],[1.2,0.8],[1.5,0.6],[1.8,0.45],[2.0,0.35],[2.3,0.2],[2.6,0.05],[3.0,-0.1],[3.5,-0.25],[4.0,-0.2],[4.5,0.0],[5.0,0.15],[5.5,-0.05],[6.0,-0.25]];
const TMK_S_P4 = [[0.8,0.96],[1.0,0.92],[1.3,0.85],[1.6,0.72],[2.0,0.58],[2.5,0.4],[3.0,0.2],[3.5,0.05],[4.0,0.1],[4.5,-0.1],[5.0,0.05],[5.5,0.15],[6.0,0.0]];

// ---------- styling ----------
const RED='#ff2200', RED2='#f4283a', CRIM='#e83a58', ROSE='#dc4878', PINK='#d25a95', MAG='#c868b0', PURP='#a97fd6';
const FONT = '"Liberation Sans", Arial, Helvetica, sans-serif';
const TXT = '#2f2828';

const PANELS = [
 {title:TITLES[0], px:61, py:64, sy:359, tdx:-8, sdx:41, dots:YNG_DOTS,
  vel:[[YNG_V_STUB,RED],[YNG_V_RED,RED],[YNG_V_RED2,RED2],[YNG_V_C1,CRIM],[YNG_V_C2,CRIM],[YNG_V_C3,ROSE],[YNG_V_C4,ROSE],[YNG_V_PINK,ROSE],[YNG_V_MAG,MAG]],
  spac:[[YNG_S_P1,MAG],[YNG_S_P2,MAG],[YNG_S_P3,PINK],[YNG_S_P4,ROSE],[YNG_S_C3,ROSE],[YNG_S_C2,CRIM],[YNG_S_C1,CRIM],[YNG_S_SPIKE,RED],[YNG_S_R3,RED2],[YNG_S_R2,RED],[YNG_S_R1,RED]]},
 {title:TITLES[1], px:496, py:64, sy:359, tdx:0, sdx:52, dots:HAT_DOTS,
  vel:[[HAT_V_PU1,PURP],[HAT_V_PU2,PURP],[HAT_V_PU3,PURP],[HAT_V_C1,ROSE],[HAT_V_C2,CRIM],[HAT_V_R1,RED],[HAT_V_R2,RED],[HAT_V_R3,RED],[HAT_V_R4,RED],[HAT_V_R5,RED],[HAT_V_R6,RED],[HAT_V_R7,RED],[HAT_V_RMAIN,RED]],
  spac:[[HAT_S_PU1,PURP],[HAT_S_PU2,PURP],[HAT_S_C3,PINK],[HAT_S_C2,ROSE],[HAT_S_C1,CRIM],[HAT_S_R7,RED],[HAT_S_R6,RED],[HAT_S_R5,RED],[HAT_S_R4,RED],[HAT_S_R3,RED],[HAT_S_R2,RED],[HAT_S_R1,RED]]},
 {title:TITLES[2], px:930, py:64, sy:359, tdx:0, sdx:42, dots:HKS_DOTS,
  vel:[[HKS_V_MAG,MAG],[HKS_V_PK,ROSE],[HKS_V_C1,ROSE],[HKS_V_C2,ROSE],[HKS_V_C3,ROSE],[HKS_V_C4,ROSE],[HKS_V_C5,ROSE],[HKS_V_R1,RED],[HKS_V_R2,RED],[HKS_V_R3,RED],[HKS_V_R4,RED],[HKS_V_R5,RED],[HKS_V_RMAIN,RED]],
  spac:[[HKS_S_P1,MAG],[HKS_S_P2,MAG],[HKS_S_P3,PINK],[HKS_S_C4,CRIM],[HKS_S_C3,ROSE],[HKS_S_C2,ROSE],[HKS_S_C1,CRIM],[HKS_S_R5,RED],[HKS_S_R4,RED],[HKS_S_R3,RED],[HKS_S_R2,RED],[HKS_S_R1,RED]]},
 {title:TITLES[3], px:54, py:567, sy:862, tdx:-8, sdx:34, dots:HBK_DOTS,
  vel:[[HBK_V_MAG,MAG],[HBK_V_PK,PINK],[HBK_V_C6,CRIM],[HBK_V_C1,ROSE],[HBK_V_C2,ROSE],[HBK_V_C3,ROSE],[HBK_V_C4,ROSE],[HBK_V_C5,ROSE],[HBK_V_R1,RED],[HBK_V_R1B,RED],[HBK_V_R2,RED],[HBK_V_R3,RED],[HBK_V_R4,RED]],
  spac:[[HBK_S_P1,MAG],[HBK_S_P2,MAG],[HBK_S_P3,PINK],[HBK_S_P4,CRIM],[HBK_S_C3,ROSE],[HBK_S_C2,ROSE],[HBK_S_C1,CRIM],[HBK_S_R3,RED],[HBK_S_R2,RED],[HBK_S_R1,RED]]},
 {title:TITLES[4], px:492, py:567, sy:862, tdx:0, sdx:45, dots:IBK_DOTS,
  vel:[[IBK_V_PK,ROSE],[IBK_V_PK2,CRIM],[IBK_V_R4,RED],[IBK_V_R3,RED],[IBK_V_R2,RED],[IBK_V_R1,RED]],
  spac:[[IBK_S_P1,PINK],[IBK_S_P2,ROSE],[IBK_S_P3,ROSE],[IBK_S_R6,RED],[IBK_S_R5,RED],[IBK_S_R4,RED],[IBK_S_R3,RED],[IBK_S_R2,RED],[IBK_S_R1,RED]]},
 {title:TITLES[5], px:930, py:567, sy:862, tdx:0, sdx:37, dots:TMK_DOTS,
  vel:[[TMK_V_MAG,ROSE],[TMK_V_C1,ROSE],[TMK_V_C2,PINK],[TMK_V_R7,RED],[TMK_V_R6,RED],[TMK_V_R5,RED],[TMK_V_R4,RED],[TMK_V_R3,RED],[TMK_V_R2,RED],[TMK_V_R1,RED]],
  spac:[[TMK_S_P1,ROSE],[TMK_S_P2,ROSE],[TMK_S_P3,ROSE],[TMK_S_P4,ROSE],[TMK_S_P0,ROSE],[TMK_S_R7,RED],[TMK_S_R6,RED],[TMK_S_R5,RED],[TMK_S_R4,RED],[TMK_S_R3,RED],[TMK_S_R2,RED],[TMK_S_R1,RED]]}
];

const PLOT_W = 316, MAIN_H = 253, SPAC_H = 63, AX_W = 62;
const LIGHT_X = [0.2,0.6,0.7,1];

function lineDs(pts, color){
  return {data: pts.map(p=>({x:p[0],y:p[1]})), showLine:true, borderColor:color, backgroundColor:color,
    borderWidth:1.8, pointRadius:0, pointHoverRadius:0, tension:0, order:1};
}
function dotDs(pts){
  return {data: pts.map(p=>({x:p[0],y:p[1]})), showLine:false, pointRadius:3.5, pointBorderWidth:2.9,
    pointBorderColor:'#111', pointBackgroundColor:'rgba(0,0,0,0)', order:0, clip:6};
}
function xScale(){
  return {type:'logarithmic', min:0.1, max:6,
    afterBuildTicks: s => { s.ticks = FREQ_TICKS.map(v=>({value:v})); },
    ticks:{autoSkip:false, maxRotation:0, minRotation:0, padding:4, color:'#333', font:{family:FONT,size:11},
      callback: v => FREQ_LABELS.includes(v) ? String(v) : ''},
    grid:{drawTicks:false,
      color: c => LIGHT_X.includes(c.tick && c.tick.value) ? '#c8c8c8' : '#5c5c5c',
      lineWidth: c => LIGHT_X.includes(c.tick && c.tick.value) ? 1.6 : 0.7},
    border:{display:false}};
}
const frameAndText = {
  id:'frameAndText',
  afterDatasetsDraw(chart, args, o){
    const {ctx, chartArea:a} = chart;
    ctx.save();
    ctx.strokeStyle = '#111'; ctx.lineWidth = 2;
    ctx.strokeRect(a.left, a.top, a.right-a.left, a.bottom-a.top);
    ctx.fillStyle = TXT; ctx.textAlign='center'; ctx.textBaseline='middle';
    const cx = (a.left+a.right)/2, cy = (a.top+a.bottom)/2;
    if (o.kind === 'main') {
      ctx.font = '26px '+FONT; ctx.fillText(o.title, cx + o.tdx, a.top - 39);
      ctx.font = '17.5px '+FONT; ctx.fillText('Frequency[Hz]', cx, a.bottom + 33);
      ctx.translate(a.left - 29, cy); ctx.rotate(-Math.PI/2);
      ctx.fillText('PhaseVelocity[km/s]', 0, 0);
    } else {
      ctx.translate(a.left - o.sdx, cy); ctx.rotate(-Math.PI/2);
      ctx.font = 'bold 19px '+FONT; const w1 = ctx.measureText('Spac').width;
      const f2 = '19px "Noto Sans CJK JP", "Noto Sans CJK SC", sans-serif';
      ctx.font = f2; const w2 = ctx.measureText('係数').width;
      const s = -(w1+w2)/2;
      ctx.textAlign = 'left';
      ctx.font = 'bold 19px '+FONT; ctx.fillStyle = '#111'; ctx.fillText('Spac', s, 0);
      ctx.font = f2; ctx.fillStyle = TXT; ctx.fillText('係数', s + w1, 0);
    }
    ctx.restore();
  }
};
function addCanvas(l,t,w,h){
  const c = document.createElement('canvas');
  c.width = w; c.height = h;
  c.style.left = l+'px'; c.style.top = t+'px'; c.style.width = w+'px'; c.style.height = h+'px';
  document.body.appendChild(c);
  return c;
}
const COMMON = {responsive:false, animation:false, devicePixelRatio:1, events:[]};

PANELS.forEach(p => {
  // main phase-velocity chart
  const TOP = 56, BOT = 48;
  const c1 = addCanvas(p.px - AX_W, p.py - TOP, AX_W + PLOT_W + 4, TOP + MAIN_H + BOT);
  new Chart(c1, {
    type:'scatter',
    data:{datasets:[dotDs(p.dots)].concat(p.vel.map(v=>lineDs(v[0],v[1])))},
    options:Object.assign({}, COMMON, {
      layout:{padding:{left:0,top:TOP,right:4,bottom:0}},
      plugins:{legend:{display:false}, tooltip:{enabled:false}, frameAndText:{kind:'main', title:p.title, tdx:p.tdx}},
      scales:{
        x: Object.assign(xScale(), {afterFit: s => { s.height = BOT; }}),
        y: {type:'linear', min:0, max:2.5,
          afterBuildTicks: s => { s.ticks = VEL_TICKS.map(v=>({value:v})); },
          afterFit: s => { s.width = AX_W; },
          ticks:{autoSkip:false, padding:7, color:'#333', font:{family:FONT,size:11},
            callback: v => VEL_LABELS.includes(v) ? String(v) : ''},
          grid:{drawTicks:false,
            color: c => (c.tick && Math.round(c.tick.value*10) % 5 === 0) ? '#5a5a5a' : '#b4b4b4',
            lineWidth: c => (c.tick && Math.round(c.tick.value*10) % 5 === 0) ? 0.8 : 1.1},
          border:{display:false}}
      }
    }),
    plugins:[frameAndText]
  });
  // spac chart
  const STOP = 18, SBOT = 22;
  const c2 = addCanvas(p.px - AX_W, p.sy - STOP, AX_W + PLOT_W + 4, STOP + SPAC_H + SBOT);
  new Chart(c2, {
    type:'scatter',
    data:{datasets:p.spac.map(v=>lineDs(v[0],v[1]))},
    options:Object.assign({}, COMMON, {
      layout:{padding:{left:0,top:STOP,right:4,bottom:0}},
      plugins:{legend:{display:false}, tooltip:{enabled:false}, frameAndText:{kind:'spac', sdx:p.sdx}},
      scales:{
        x: Object.assign(xScale(), {afterFit: s => { s.height = SBOT; }}),
        y: {type:'linear', min:-0.5, max:1,
          afterBuildTicks: s => { s.ticks = SPAC_TICKS.map(v=>({value:v})); },
          afterFit: s => { s.width = AX_W; },
          ticks:{autoSkip:false, padding:8, color:'#333', font:{family:FONT,size:11},
            callback: v => SPAC_LABELS[SPAC_TICKS.indexOf(v)] || ''},
          grid:{drawTicks:false, color:'#bdbdbd', lineWidth:1.3},
          border:{display:false}}
      }
    }),
    plugins:[frameAndText]
  });
});
</script>
</body></html>
